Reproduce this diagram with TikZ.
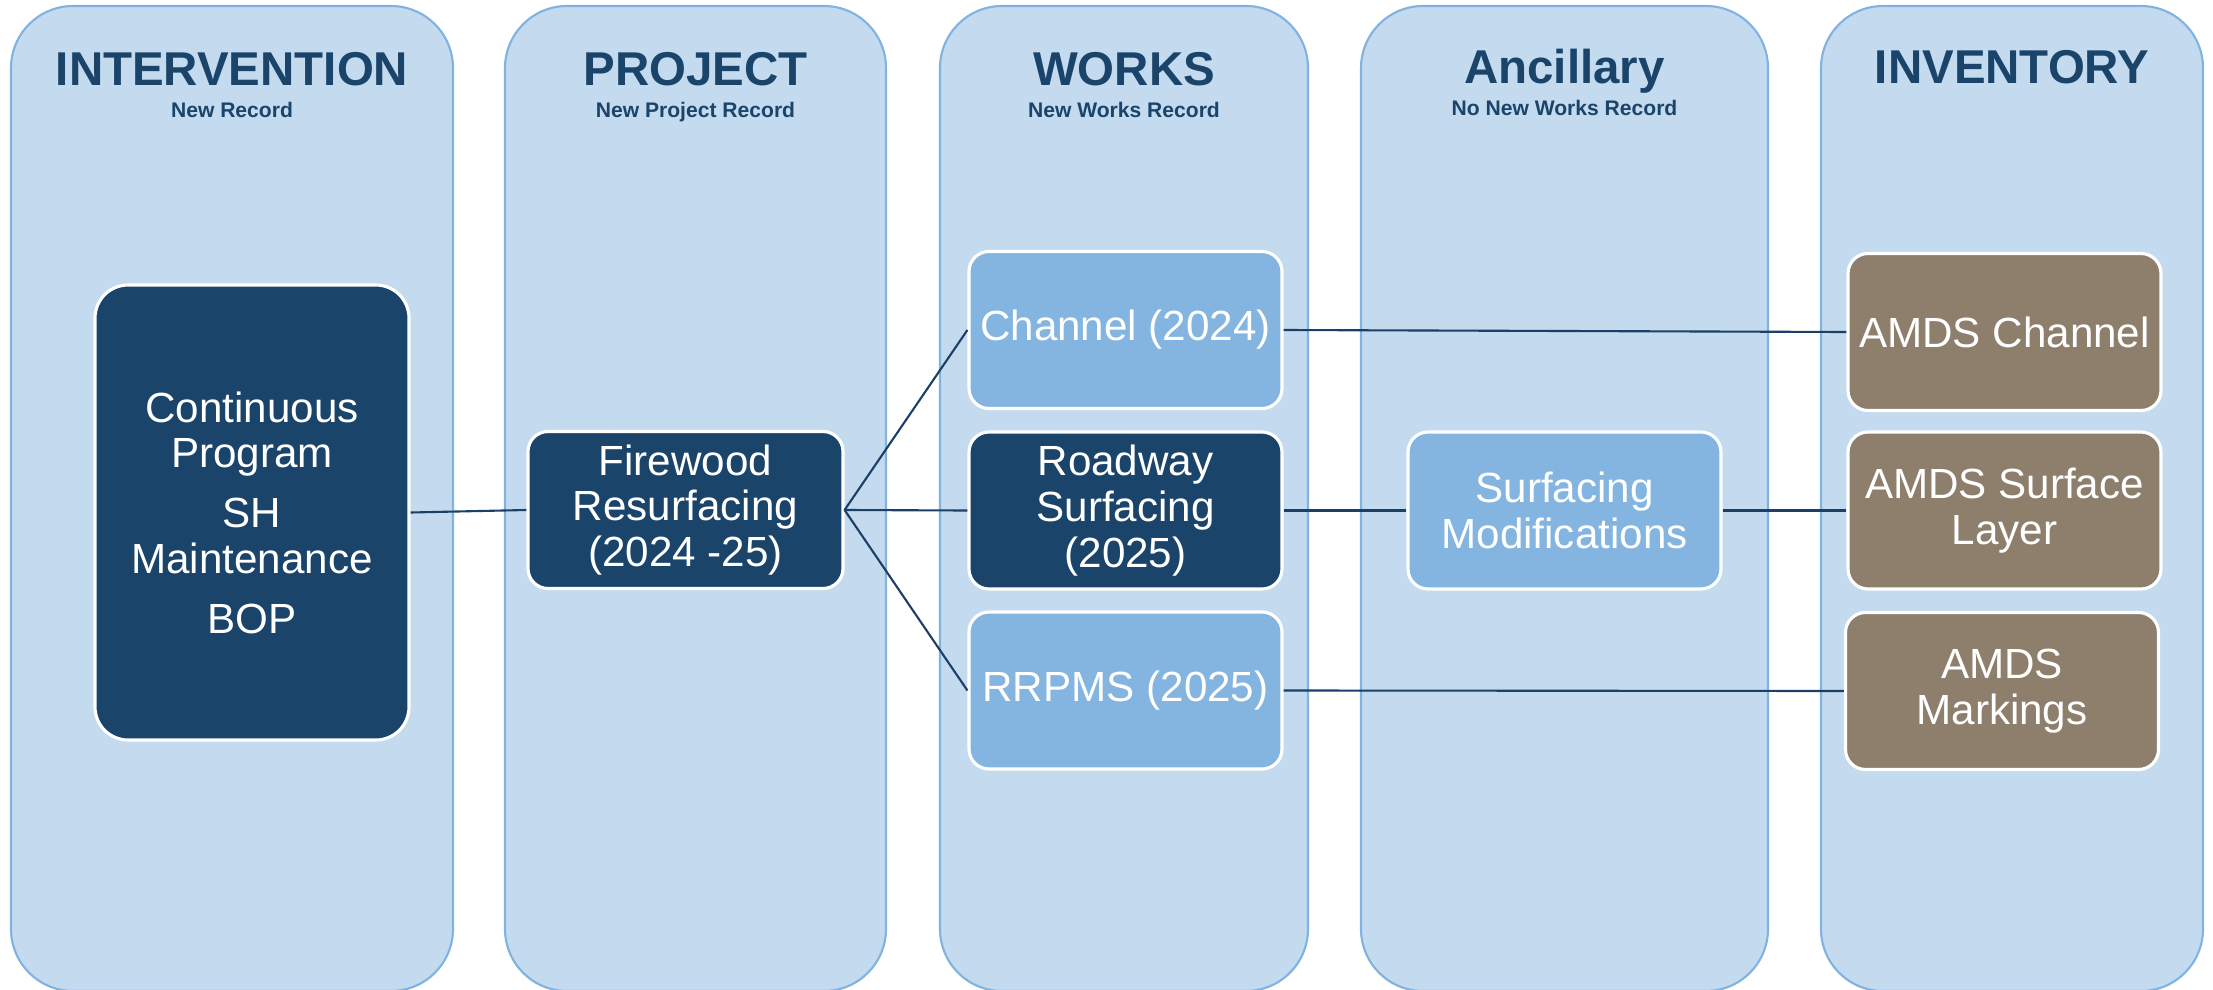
\documentclass[tikz,border=0pt]{standalone}
\usepackage{fontspec}
\setmainfont{Liberation Sans}

\definecolor{lanefill}{HTML}{C3DAEF}
\definecolor{laneedge}{HTML}{80B3E0}
\definecolor{navy}{HTML}{1B446B}
\definecolor{sky}{HTML}{84B5E0}
\definecolor{taupe}{HTML}{8E7F6D}
\definecolor{wirecol}{HTML}{1B3F66}

\tikzset{
    lane/.style={draw=laneedge, line width=0.6pt, fill=lanefill, rectangle, rounded corners=0.62cm, inner sep=0pt},
    lanetitle/.style={text=navy, anchor=base, font=\fontsize{13.5}{16}\selectfont\bfseries},
    lanesub/.style={text=navy, anchor=base, font=\fontsize{6}{7}\selectfont\bfseries},
    recbox/.style={draw=white, line width=0.9pt, rectangle, rounded corners=0.2cm, text=white, align=center,
        minimum width=3.13cm, minimum height=1.57cm, inner sep=0pt, font=\fontsize{12}{13}\selectfont},
    darkbox/.style={recbox, fill=navy},
    skybox/.style={recbox, fill=sky},
    taupebox/.style={recbox, fill=taupe},
    wire/.style={draw=wirecol, line width=0.6pt}
}

\begin{document}
\begin{tikzpicture}
    \useasboundingbox (0,0) rectangle (22.13,-9.90);

    \node[lane, minimum width=4.42cm, minimum height=9.85cm] (intervention) at (2.32,-4.985) {};
    \node[lane, minimum width=3.81cm, minimum height=9.85cm] (project) at (6.955,-4.985) {};
    \node[lane, minimum width=3.68cm, minimum height=9.85cm] (works) at (11.24,-4.985) {};
    \node[lane, minimum width=4.07cm, minimum height=9.85cm] (ancillary) at (15.645,-4.985) {};
    \node[lane, minimum width=3.82cm, minimum height=9.85cm] (inventory) at (20.12,-4.985) {};

    \node[lanetitle] (t1) at (2.32,-0.86) {INTERVENTION};
    \node[lanesub] (s1) at (2.32,-1.17) {New Record};
    \node[lanetitle] (t2) at (6.955,-0.85) {PROJECT};
    \node[lanesub] (s2) at (6.955,-1.17) {New Project Record};
    \node[lanetitle] (t3) at (11.24,-0.85) {WORKS};
    \node[lanesub] (s3) at (11.24,-1.17) {New Works Record};
    \node[lanetitle] (t4) at (15.645,-0.84) {Ancillary};
    \node[lanesub] (s4) at (15.645,-1.16) {No New Works Record};
    \node[lanetitle] (t5) at (20.12,-0.84) {INVENTORY};

    \node[darkbox, minimum width=3.14cm, minimum height=4.55cm, rounded corners=0.33cm] (continuous) at (2.52,-5.125)
        {Continuous\\Program\\[4pt]SH\\Maintenance\\[4pt]BOP};
    \node[darkbox, minimum width=3.15cm] (firewood) at (6.855,-5.10) {Firewood\\Resurfacing\\(2024 -25)};

    \node[skybox] (channel) at (11.255,-3.30) {Channel (2024)};
    \node[darkbox] (roadway) at (11.255,-5.105) {Roadway\\Surfacing\\(2025)};
    \node[skybox] (rrpms) at (11.255,-6.905) {RRPMS (2025)};

    \node[skybox] (surfmod) at (15.645,-5.105) {Surfacing\\Modifications};

    \node[taupebox] (amdschannel) at (20.045,-3.32) {AMDS Channel};
    \node[taupebox] (amdssurface) at (20.045,-5.105) {AMDS Surface\\Layer};
    \node[taupebox] (amdsmarkings) at (20.02,-6.91) {AMDS\\Markings};

    \draw[wire] (continuous.east) -- (firewood.west);
    \draw[wire] (firewood.east) -- (channel.west);
    \draw[wire] (firewood.east) -- (roadway.west);
    \draw[wire] (firewood.east) -- (rrpms.west);
    \draw[wire] (channel.east) -- (amdschannel.west);
    \draw[wire] (roadway.east) -- (surfmod.west);
    \draw[wire] (surfmod.east) -- (amdssurface.west);
    \draw[wire] (rrpms.east) -- (amdsmarkings.west);

\end{tikzpicture}
\end{document}
